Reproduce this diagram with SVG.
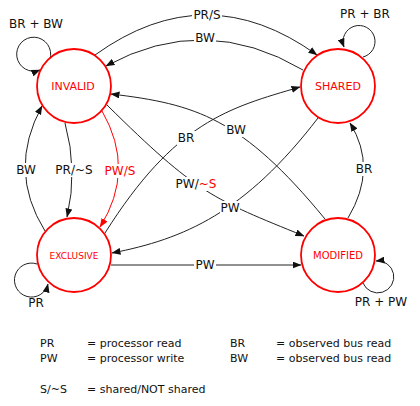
<svg xmlns="http://www.w3.org/2000/svg" width="420" height="406" viewBox="0 0 420 406">
  <style>
    .node { fill: #ffffff; stroke: #ff0000; stroke-width: 1.8; }
    .nlabel { font-family: "DejaVu Sans", sans-serif; fill: #ff0000; text-anchor: middle; }
    .edge { fill: none; stroke: #222222; stroke-width: 1; marker-end: url(#arrow); }
    .edge-red { fill: none; stroke: #ff0000; stroke-width: 1; marker-end: url(#arrow-red); }
    .elabel { font-family: "DejaVu Sans", sans-serif; font-size: 12px; fill: #111111; text-anchor: middle; }
    .red { fill: #ff0000; }
    .bg { fill: #ffffff; }
    .legend { font-family: "DejaVu Sans", sans-serif; font-size: 11px; fill: #111111; }
  </style>
  <defs>
    <marker id="arrow" markerUnits="userSpaceOnUse" markerWidth="9" markerHeight="7" refX="8.5" refY="3.5" orient="auto">
      <path d="M0,0 L9,3.5 L0,7 z" fill="#111111"/>
    </marker>
    <marker id="arrow-red" markerUnits="userSpaceOnUse" markerWidth="9" markerHeight="7" refX="8.5" refY="3.5" orient="auto">
      <path d="M0,0 L9,3.5 L0,7 z" fill="#ff0000"/>
    </marker>
  </defs>
  <rect width="420" height="406" fill="#ffffff"/>

  <g id="connectors">
    <!-- self loops -->
    <path class="edge" d="M50,59 A17,17 0 1 0 40,70"/>
    <path class="edge" d="M363,57 A16,16 0 1 0 344,47"/>
    <path class="edge" d="M37,264 A17,17 0 1 0 48,284"/>
    <path class="edge" d="M363,283 A16,16 0 1 0 376,261"/>
    <!-- INVALID -> SHARED PR/S -->
    <path class="edge" d="M95,55 Q206,-25 317,55"/>
    <!-- SHARED -> INVALID BW -->
    <path class="edge" d="M303,70 Q205,12 106,66"/>
    <!-- MODIFIED -> INVALID BW -->
    <path class="edge" d="M325,219 C242,118 196,104 111,94"/>
    <!-- EXCLUSIVE -> SHARED BR -->
    <path class="edge" d="M105,233 C175,122 228,108 300,87"/>
    <!-- INVALID -> MODIFIED PW/~S -->
    <path class="edge" d="M107,105 C197,194 213,199 304,236"/>
    <!-- SHARED -> EXCLUSIVE PW -->
    <path class="edge" d="M318,118 C245,213 184,239 112,253"/>
    <!-- MODIFIED -> SHARED BR -->
    <path class="edge" d="M348,218 Q378,168 350,123"/>
    <!-- INVALID -> EXCLUSIVE PR/~S -->
    <path class="edge" d="M65,123 Q78,170 67,217"/>
    <!-- EXCLUSIVE -> INVALID BW -->
    <path class="edge" d="M45,231 Q7,170 42,106"/>
    <!-- INVALID -> EXCLUSIVE PW/S (red) -->
    <path class="edge-red" d="M102,111 Q136,170 100,227"/>
    <!-- EXCLUSIVE -> MODIFIED PW -->
    <path class="edge" d="M111,265 L301,265"/>
  </g>

  <g id="edge-labels">
    <text class="elabel" x="36" y="28">BR + BW</text>
    <text class="elabel" x="365" y="18">PR + BR</text>
    <text class="elabel" x="36" y="307">PR</text>
    <text class="elabel" x="381" y="306">PR + PW</text>

    <rect class="bg" x="192" y="8" width="30" height="14"/>
    <text class="elabel" x="207" y="19">PR/S</text>

    <rect class="bg" x="194" y="31" width="22" height="14"/>
    <text class="elabel" x="205" y="42">BW</text>

    <rect class="bg" x="15" y="163" width="22" height="14"/>
    <text class="elabel" x="26" y="174">BW</text>

    <rect class="bg" x="55" y="163" width="38" height="14"/>
    <text class="elabel" x="74" y="174">PR/~S</text>

    <rect class="bg" x="103" y="164" width="34" height="14"/>
    <text class="elabel red" x="120" y="175">PW/S</text>

    <rect class="bg" x="177" y="131" width="18" height="14"/>
    <text class="elabel" x="186" y="142">BR</text>

    <rect class="bg" x="225" y="123" width="22" height="14"/>
    <text class="elabel" x="236" y="134">BW</text>

    <rect class="bg" x="175" y="177" width="43" height="14"/>
    <text class="elabel" x="196" y="188">PW/<tspan class="red">~S</tspan></text>

    <rect class="bg" x="220" y="201" width="20" height="14"/>
    <text class="elabel" x="230" y="212">PW</text>

    <rect class="bg" x="355" y="162" width="18" height="14"/>
    <text class="elabel" x="364" y="173">BR</text>

    <rect class="bg" x="194" y="258" width="22" height="14"/>
    <text class="elabel" x="205" y="269">PW</text>
  </g>

  <g id="node-invalid">
    <circle class="node" cx="74" cy="86" r="37"/>
    <text class="nlabel" x="73" y="90" font-size="11">INVALID</text>
  </g>
  <g id="node-shared">
    <circle class="node" cx="338" cy="86" r="37"/>
    <text class="nlabel" x="338" y="90" font-size="11">SHARED</text>
  </g>
  <g id="node-exclusive">
    <circle class="node" cx="74" cy="255" r="37"/>
    <text class="nlabel" x="74" y="259" font-size="9">EXCLUSIVE</text>
  </g>
  <g id="node-modified">
    <circle class="node" cx="338" cy="255" r="37"/>
    <text class="nlabel" x="338" y="259" font-size="10">MODIFIED</text>
  </g>

  <g id="legend">
    <text class="legend" x="40" y="347">PR</text>
    <text class="legend" x="87" y="347">= processor read</text>
    <text class="legend" x="40" y="362">PW</text>
    <text class="legend" x="87" y="362">= processor write</text>
    <text class="legend" x="40" y="393">S/~S</text>
    <text class="legend" x="87" y="393">= shared/NOT shared</text>
    <text class="legend" x="230" y="347">BR</text>
    <text class="legend" x="276" y="347">= observed bus read</text>
    <text class="legend" x="230" y="362">BW</text>
    <text class="legend" x="276" y="362">= observed bus read</text>
  </g>
</svg>
